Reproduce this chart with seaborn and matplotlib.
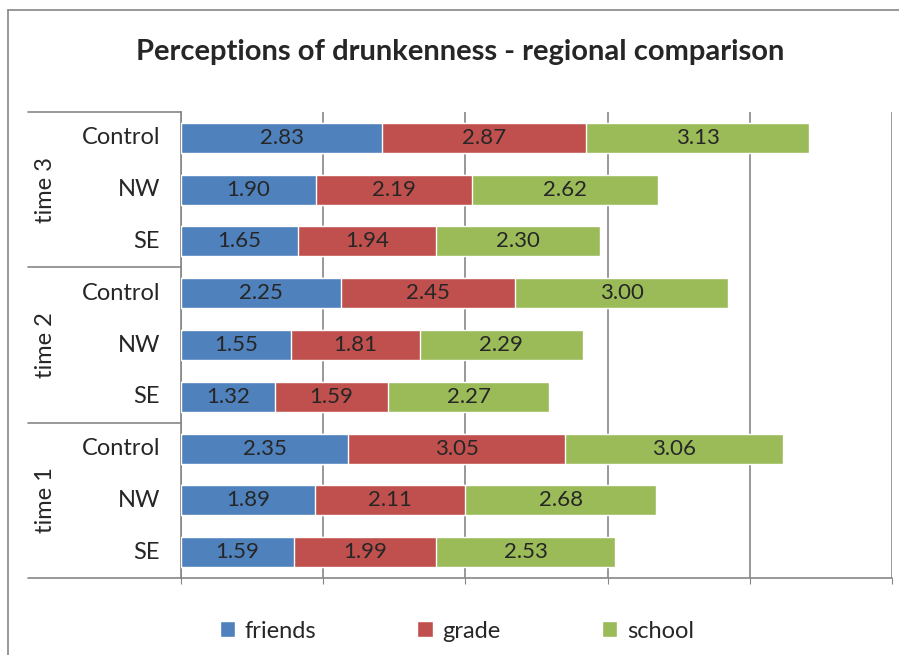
import numpy as np
import pandas as pd
import matplotlib.pyplot as plt
import seaborn as sns
from matplotlib.lines import Line2D
from matplotlib.patches import Patch
import matplotlib.transforms as mtransforms

# values, rows top to bottom
times = ['time 3', 'time 2', 'time 1']
regions = ['Control', 'NW', 'SE']
friends = [2.83, 1.90, 1.65, 2.25, 1.55, 1.32, 2.35, 1.89, 1.59]
grade = [2.87, 2.19, 1.94, 2.45, 1.81, 1.59, 3.05, 2.11, 1.99]
school = [3.13, 2.62, 2.30, 3.00, 2.29, 2.27, 3.06, 2.68, 2.53]
series = ['friends', 'grade', 'school']
colors = ['#4F81BD', '#C0504D', '#9BBB59']

sns.set_style('white')
plt.rcParams['font.family'] = ['Lato', 'DejaVu Sans']

row_keys = [f'{t}|{r}' for t in times for r in regions]
df = pd.DataFrame({'row': row_keys, 'friends': friends, 'grade': grade, 'school': school})
df['c1'] = df['friends']
df['c2'] = df['c1'] + df['grade']
df['c3'] = df['c2'] + df['school']

fig = plt.figure(figsize=(8.99, 6.55), dpi=100)
ax = fig.add_axes([181 / 899, 1 - 578 / 655, 711 / 899, 466 / 655])

# stacked bars: draw cumulative totals from the back
for col, c in zip(['c3', 'c2', 'c1'], colors[::-1]):
    sns.barplot(data=df, x=col, y='row', order=row_keys, color=c, orient='h',
                width=0.58, saturation=1, ax=ax, zorder=3)

# value labels in the middle of each segment
for i in range(len(row_keys)):
    left = 0
    for name in series:
        v = df[name].iloc[i]
        ax.text(left + v / 2, i, f'{v:.2f}', ha='center', va='center',
                fontsize=16, color='#262626', zorder=4)
        left += v

ax.set_xlim(0, 10)
ax.set_ylim(8.5, -0.5)
ax.set_xticks([0, 2, 4, 6, 8, 10])
ax.set_xticklabels([])
ax.xaxis.grid(True, color='#868686', linewidth=1.2, zorder=0)
ax.tick_params(axis='x', length=4, color='#868686', direction='out', bottom=True)
ax.set_yticks([])
ax.set_xlabel('')
ax.set_ylabel('')
for s in ['top', 'right']:
    ax.spines[s].set_visible(False)
for s in ['left', 'bottom']:
    ax.spines[s].set_color('#868686')
    ax.spines[s].set_linewidth(1.2)

# category labels and group labels
trans = mtransforms.blended_transform_factory(ax.transAxes, ax.transData)
ax_w = 711.0
for i, key in enumerate(row_keys):
    ax.text(-21 / ax_w, i, key.split('|')[1], transform=trans, ha='right',
            va='center', fontsize=17, color='#262626')
for g, t in enumerate(times):
    ax.text(-136 / ax_w, g * 3 + 1, t, transform=trans, rotation=90, ha='center',
            va='center', fontsize=17, color='#262626')
for b in [-0.5, 2.5, 5.5, 8.5]:
    ax.add_line(Line2D([-153 / ax_w, 0], [b, b], transform=trans, color='#868686',
                       linewidth=1.2, clip_on=False))

fig.suptitle('Perceptions of drunkenness - regional comparison', x=0.512, y=0.94,
             fontsize=21, fontweight='bold', color='#262626')

handles = [Patch(facecolor=c, label=n) for c, n in zip(colors, series)]
fig.legend(handles=handles, loc='center', bbox_to_anchor=(0.508, 1 - 631 / 655), ncol=3,
           frameon=False, fontsize=17, handlelength=0.65, handleheight=0.65,
           handletextpad=0.4, columnspacing=4.3)

# outer chart border
fig.add_artist(Line2D([8 / 899, 8 / 899], [0, 1 - 10 / 655], color='#868686', linewidth=1.2))
fig.add_artist(Line2D([8 / 899, 1], [1 - 10 / 655, 1 - 10 / 655], color='#868686', linewidth=1.2))

fig.savefig('out.png', dpi=100)
